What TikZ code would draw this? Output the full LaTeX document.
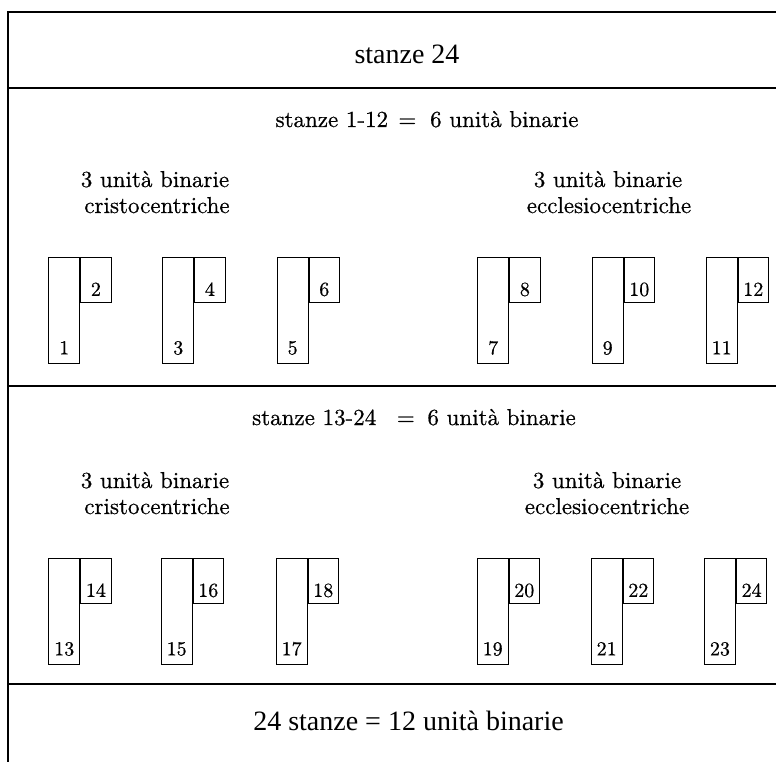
\documentclass[tikz,border=0pt]{standalone}
\usepackage{fontspec}
\newfontfamily\timesf{Liberation Serif}
\newfontfamily\lmf[Extension=.otf,FakeBold=0.6]{lmroman10-regular}
\usetikzlibrary{calc}
\begin{document}
\begin{tikzpicture}[x=1pt,y=-1pt,
  frame/.style={line width=1.2pt},
  tallbox/.style={draw, line width=0.9pt, minimum width=31pt, minimum height=105.5pt, inner sep=0pt, anchor=north west},
  smallbox/.style={draw, line width=0.9pt, minimum width=30.5pt, minimum height=45pt, inner sep=0pt, anchor=north west},
  num/.style={font=\lmf\fontsize{20}{20}\selectfont, inner sep=0pt, anchor=base},
  head/.style={font=\lmf\fontsize{23}{23}\selectfont, inner sep=0pt, anchor=base},
  title/.style={font=\timesf\fontsize{28}{28}\selectfont, inner sep=0pt, anchor=base}]
\fill[white] (0,0) rectangle (776,762);
\useasboundingbox (0,0) rectangle (776,762);
% frame
\draw[frame] (8,762) -- (8,12) -- (776,12);
\draw[frame] (8,88) -- (776,88);
\draw[frame] (8,386) -- (776,386);
\draw[frame] (8,684) -- (776,684);
% texts
\node[title] (t24) at (407,64) {stanze 24};
\node[head] (h1) at (427,127) {stanze 1-12\hspace{0.45em}=\hspace{0.6em}6 unità binarie};
\node[head] (c1a) at (155,187) {3 unità binarie};
\node[head] (c1b) at (157,213) {cristocentriche};
\node[head] (e1a) at (608,187) {3 unità binarie};
\node[head] (e1b) at (609,213) {ecclesiocentriche};
\node[head] (h2) at (414,425) {stanze 13-24\hspace{0.9em}=\hspace{0.55em}6 unità binarie};
\node[head] (c2a) at (155,488) {3 unità binarie};
\node[head] (c2b) at (157,514) {cristocentriche};
\node[head] (e2a) at (607,488) {3 unità binarie};
\node[head] (e2b) at (607,514) {ecclesiocentriche};
\node[title] (bot) at (408.5,730) {24 stanze = 12 unità binarie};
% row 1 units
\foreach \x/\a/\b in {48.3/1/2, 162.3/3/4, 276.7/5/6, 477.3/7/8, 591.7/9/10, 705.7/11/12} {
  \node[tallbox] (t\a) at (\x,257) {};
  \node[smallbox] (s\b) at (t\a.north east) {};
  \node[num] (n\a) at ($(t\a.south)+(0pt,9pt)$) {\a};
  \node[num] (n\b) at ($(s\b.south)+(0pt,7pt)$) {\b};
}
% row 2 units
\foreach \x/\a/\b in {48.3/13/14, 160.7/15/16, 275.7/17/18, 476.7/19/20, 590.7/21/22, 704/23/24} {
  \node[tallbox] (t\a) at (\x,558) {};
  \node[smallbox] (s\b) at (t\a.north east) {};
  \node[num] (n\a) at ($(t\a.south)+(0pt,9pt)$) {\a};
  \node[num] (n\b) at ($(s\b.south)+(0pt,7pt)$) {\b};
}
\end{tikzpicture}
\end{document}
